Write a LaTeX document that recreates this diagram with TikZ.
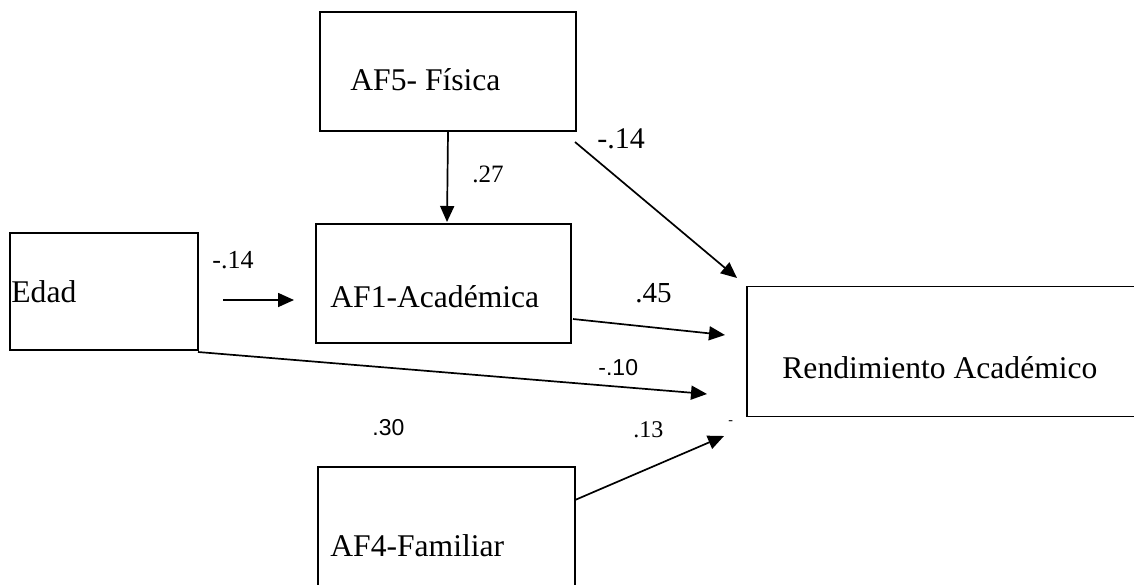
\documentclass[tikz,border=0pt]{standalone}
\usepackage{fontspec}
\setmainfont{Liberation Serif}
\setsansfont{Liberation Sans}
\usetikzlibrary{arrows.meta}

\tikzset{
    box/.style={draw, line width=0.9pt, rectangle, inner sep=0pt},
    boxtext/.style={anchor=base west, inner sep=0pt, font=\fontsize{15.8}{18}\selectfont},
    coef/.style={anchor=base west, inner sep=0pt},
    path/.style={line width=0.85pt, -{Triangle[length=8pt,width=7pt]}}
}

\begin{document}
\begin{tikzpicture}[x=0.5pt, y=-0.5pt]

    % --- Page frame (pixel units, y downwards) ---
    \useasboundingbox (0,0) rectangle (1134,584);
    \clip (0,0) rectangle (1134,584);

    % --- Boxes ---
    \node[box, minimum width=128pt, minimum height=59.5pt] (af5) at (448,71.5) {};
    \node[box, minimum width=127.5pt, minimum height=59.5pt] (af1) at (443.5,283.5) {};
    \node[box, minimum width=94pt, minimum height=58.5pt] (edad) at (104,291.5) {};
    \node[box, minimum width=128.5pt, minimum height=80pt] (af4) at (446.5,547) {}; % cut at the bottom
    \node[box, minimum width=201.5pt, minimum height=65pt] (rend) at (948.5,351.5) {}; % cut at the right

    % --- Box texts ---
    \node[boxtext] (af5t) at (350,90) {AF5- Física};
    \node[boxtext] (af1t) at (330,307) {AF1-Académica};
    \node[boxtext] (edadt) at (11,302) {Edad};
    \node[boxtext] (af4t) at (330,556) {AF4-Familiar};
    \node[boxtext] (rendt) at (782,378) {Rendimiento Académico};

    % --- Free ends of the paths ---
    \coordinate (af5tip) at (447,222);
    \coordinate (edadfrom) at (223,300);
    \coordinate (edadto) at (294,300);
    \coordinate (af5out) at (575,142);
    \coordinate (rendin1) at (737,278);
    \coordinate (af1out) at (573,319);
    \coordinate (rendin2) at (725,335);
    \coordinate (edadout) at (198,352);
    \coordinate (rendin3) at (707,394);
    \coordinate (af4out) at (575,500);
    \coordinate (rendin4) at (724,436);

    % --- Paths ---
    \draw[path] (af5.south) -- (af5tip);
    \draw[path] (edadfrom) -- (edadto);
    \draw[path] (af5out) -- (rendin1);
    \draw[path] (af1out) -- (rendin2);
    \draw[path] (edadout) -- (rendin3);
    \draw[path] (af4out) -- (rendin4);

    % --- Coefficients ---
    \node[coef, font=\fontsize{12.5}{14}\selectfont] (c27) at (472,182) {.27};
    \node[coef, font=\fontsize{13}{15}\selectfont] (c14a) at (212,268) {-.14};
    \node[coef, font=\fontsize{15}{17}\selectfont] (c14b) at (597,148) {-.14};
    \node[coef, font=\fontsize{14.5}{17}\selectfont] (c45) at (635,302) {.45};
    \node[coef, font=\sffamily\fontsize{11.5}{13}\selectfont] (c10) at (598,375) {-.10};
    \node[coef, font=\sffamily\fontsize{11.5}{13}\selectfont] (c30) at (372,435) {.30};
    \node[coef, font=\fontsize{12}{14}\selectfont] (c13) at (633,437) {.13};
    \node[coef, font=\fontsize{7}{8}\selectfont] (dash) at (728,424) {-};

\end{tikzpicture}
\end{document}
